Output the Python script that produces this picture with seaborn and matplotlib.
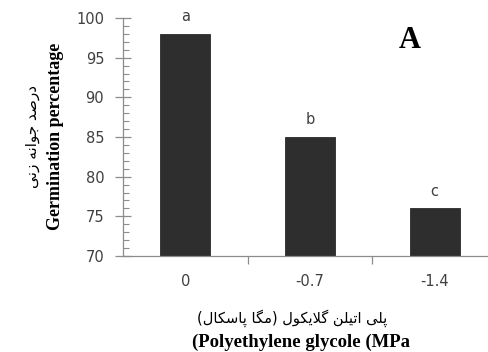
import matplotlib
matplotlib.use("Agg")
import matplotlib.pyplot as plt
import seaborn as sns
import pandas as pd
from matplotlib.ticker import MultipleLocator, FixedLocator

# ---- data ----
peg_levels = ["0", "-0.7", "-1.4"]
germination = [98, 85, 76]
group_letters = ["a", "b", "c"]

ylabel_en = "Germination percentage"
ylabel_fa = "درصد جوانه زنی"
xlabel_en = "(Polyethylene glycole (MPa"
xlabel_fa = "پلی اتیلن گلایکول (مگا پاسکال)"
panel_tag = "A"

# ---- minimal Arabic-script shaping (presentation forms + RTL order) ----
FORMS = {  # isolated, final, initial, medial
    "\u0627": ("\uFE8D", "\uFE8E", None, None),
    "\u062F": ("\uFEA9", "\uFEAA", None, None),
    "\u0631": ("\uFEAD", "\uFEAE", None, None),
    "\u0632": ("\uFEAF", "\uFEB0", None, None),
    "\u0648": ("\uFEED", "\uFEEE", None, None),
    "\u0635": ("\uFEB9", "\uFEBA", "\uFEBB", "\uFEBC"),
    "\u062C": ("\uFE9D", "\uFE9E", "\uFE9F", "\uFEA0"),
    "\u0646": ("\uFEE5", "\uFEE6", "\uFEE7", "\uFEE8"),
    "\u0647": ("\uFEE9", "\uFEEA", "\uFEEB", "\uFEEC"),
    "\u06CC": ("\uFBFC", "\uFBFD", "\uFBFE", "\uFBFF"),
    "\u067E": ("\uFB56", "\uFB57", "\uFB58", "\uFB59"),
    "\u0644": ("\uFEDD", "\uFEDE", "\uFEDF", "\uFEE0"),
    "\u062A": ("\uFE95", "\uFE96", "\uFE97", "\uFE98"),
    "\u06AF": ("\uFB92", "\uFB93", "\uFB94", "\uFB95"),
    "\u06A9": ("\uFB8E", "\uFB8F", "\uFB90", "\uFB91"),
    "\u0645": ("\uFEE1", "\uFEE2", "\uFEE3", "\uFEE4"),
    "\u0633": ("\uFEB1", "\uFEB2", "\uFEB3", "\uFEB4"),
    "LA": ("\uFEFB", "\uFEFC", None, None),
}
MIRROR = {"(": ")", ")": "("}


def shape_rtl(text):
    # merge lam + alef into the ligature token
    chars = []
    i = 0
    while i < len(text):
        if text[i] == "\u0644" and i + 1 < len(text) and text[i + 1] == "\u0627":
            chars.append("LA")
            i += 2
        else:
            chars.append(text[i])
            i += 1

    def dual(c):
        return c in FORMS and FORMS[c][2] is not None

    out = []
    for k, c in enumerate(chars):
        if c not in FORMS:
            out.append(MIRROR.get(c, c))
            continue
        prev_c = chars[k - 1] if k > 0 else None
        next_c = chars[k + 1] if k + 1 < len(chars) else None
        jp = prev_c is not None and dual(prev_c)
        jn = dual(c) and next_c is not None and next_c in FORMS
        iso, fin, ini, med = FORMS[c]
        if jp and jn:
            out.append(med)
        elif jp:
            out.append(fin)
        elif jn:
            out.append(ini)
        else:
            out.append(iso)
    return "".join(reversed(out))


# ---- figure ----
sns.set_style("ticks")
plt.rcParams["font.family"] = ["DejaVu Sans"]

fig = plt.figure(figsize=(4.89, 3.52), dpi=100)
ax = fig.add_axes([123 / 489, 96 / 352, 374 / 489, 238 / 352])

df = pd.DataFrame({"level": peg_levels, "value": germination})
sns.barplot(data=df, x="level", y="value", order=peg_levels, color="#2e2e2e",
            width=0.4, saturation=1, edgecolor="#2a2a2a", linewidth=0.6, ax=ax)

ax.set_ylim(70, 100)
ax.set_xlim(-0.5, 2.5)
ax.yaxis.set_major_locator(MultipleLocator(5))
ax.yaxis.set_minor_locator(MultipleLocator(1))
ax.xaxis.set_minor_locator(FixedLocator([0.5, 1.5]))

axis_grey = "#8c8c8c"
text_grey = "#404040"
for side in ["top", "right"]:
    ax.spines[side].set_visible(False)
for side in ["left", "bottom"]:
    ax.spines[side].set_color(axis_grey)
    ax.spines[side].set_linewidth(0.9)

ax.tick_params(axis="y", which="major", direction="inout", length=11, width=0.9,
               color=axis_grey, labelsize=10.5, labelcolor=text_grey, pad=8)
ax.tick_params(axis="y", which="minor", direction="in", length=4, width=0.8,
               color=axis_grey)
ax.tick_params(axis="x", which="major", length=0, labelsize=10.5,
               labelcolor=text_grey, pad=13)
ax.tick_params(axis="x", which="minor", direction="out", length=6, width=0.9,
               color=axis_grey)
ax.set_xlabel("")
ax.set_ylabel("")

# significance letters above each bar
for i, (v, lt) in enumerate(zip(germination, group_letters)):
    ax.annotate(lt, (i, v), xytext=(0, 7), textcoords="offset points",
                ha="center", va="bottom", fontsize=10.5, color=text_grey)

# panel tag
fig.text(410 / 489, 1 - 41 / 352, panel_tag, ha="center", va="center",
         fontsize=22, fontweight="bold", family="Liberation Serif", color="black")

# axis titles (Persian above/left of English)
fig.text(56 / 489, 1 - 136 / 352, ylabel_en, rotation=90, ha="center", va="center",
         fontsize=13, fontweight="bold", family="Liberation Serif", color="black")
fig.text(33 / 489, 1 - 137 / 352, shape_rtl(ylabel_fa), rotation=90, ha="center",
         va="center", fontsize=11, family="DejaVu Sans", color="black")
fig.text(292 / 489, 1 - 318 / 352, shape_rtl(xlabel_fa), ha="center", va="center",
         fontsize=10.5, family="DejaVu Sans", color="black")
fig.text(301 / 489, 1 - 342 / 352, xlabel_en, ha="center", va="center",
         fontsize=13.5, fontweight="bold", family="Liberation Serif", color="black")

fig.savefig("out.png", dpi=100)
